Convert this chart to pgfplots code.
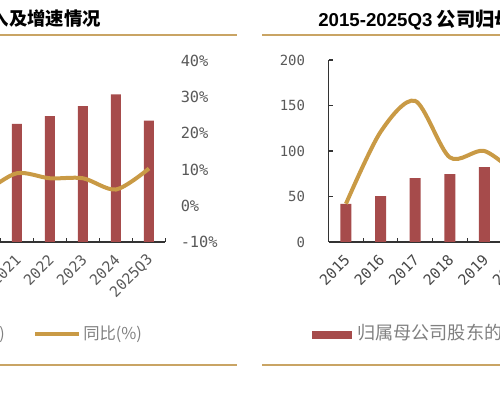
\documentclass[border=0pt]{standalone}
\usepackage{pgfplots}
\pgfplotsset{compat=1.18}
\usepackage{pgfplotstable}
\usepackage{fontspec}
\setmainfont{Liberation Sans}
\newfontfamily\cjk{Noto Sans CJK SC}
\newfontfamily\mono{DejaVu Sans Mono}
\definecolor{barred}{HTML}{A64B4B}
\definecolor{gold}{HTML}{C99A45}
\definecolor{sep}{HTML}{C9A464}
\definecolor{tickgray}{HTML}{595959}
\definecolor{leggray}{HTML}{808080}
\definecolor{axisdark}{HTML}{333333}

\pgfplotstableread{
x val
0 163
1 174
2 187.5
3 204
4 167.8
}\leftbars
\pgfplotstableread{
x val
-2 2
-1 4
0 9.0
1 7.6
2 7.6
3 4.5
4 10.3
}\leftline
\pgfplotstableread{
x val
0 41.8
1 50.5
2 70.3
3 74.7
4 82.4
}\rightbars
\pgfplotstableread{
x val
0 42
1 121
2 155
3 93
4 100
5 72
}\rightline

\begin{document}
\begin{tikzpicture}
\begin{scope}
\clip (0,0) rectangle (375pt,300pt);
% ---------- left chart: bars
\begin{axis}[at={(-148.125pt,118.5pt)}, anchor=south west, scale only axis,
  width=272.25pt, height=135.75pt,
  xmin=-6.5, xmax=4.5, ymin=0, ymax=250,
  axis x line*=bottom, axis y line*=left,
  axis line style={axisdark, line width=1pt},
  tick align=inside, major tick length=3pt, minor tick length=3pt,
  xtick={-6,...,4},
  xticklabels={2015,2016,2017,2018,2019,2020,2021,2022,2023,2024,2025Q3},
  minor xtick={-6.5,-5.5,...,4.5},
  major x tick style={draw=none},
  minor x tick style={axisdark, line width=0.8pt},
  ytick=\empty,
  xticklabel style={font=\mono\fontsize{11}{12}\selectfont, text=tickgray,
    xshift=1pt, yshift=-11.5pt, rotate=45, anchor=east, inner sep=0pt},
]
\addplot[ybar, bar width=7.5pt, fill=barred, draw=none] table[x=x,y=val]{\leftbars};
\end{axis}
% ---------- left chart: growth line (right axis)
\begin{axis}[at={(-148.125pt,118.5pt)}, anchor=south west, scale only axis,
  width=272.25pt, height=135.75pt,
  xmin=-6.5, xmax=4.5, ymin=-10, ymax=40,
  hide x axis, axis y line*=right,
  y axis line style={draw=none},
  major tick length=0pt,
  ytick={-10,0,10,20,30,40},
  yticklabels={-10\%,0\%,10\%,20\%,30\%,40\%},
  yticklabel style={font=\mono\fontsize{11.5}{12}\selectfont, text=tickgray,
    anchor=west, inner sep=0pt, xshift=11.25pt},
]
\addplot[gold, line width=3pt, smooth, no markers] table[x=x,y=val]{\leftline};
\end{axis}
% ---------- right chart
\begin{axis}[at={(246.5pt,118.5pt)}, anchor=south west, scale only axis,
  width=285.45pt, height=136.5pt,
  xmin=-0.5, xmax=10.5, ymin=0, ymax=200,
  axis x line*=bottom, axis y line*=left,
  axis line style={axisdark, line width=1pt},
  tick align=inside, major tick length=3pt, minor tick length=3pt,
  xtick={0,...,10},
  xticklabels={2015,2016,2017,2018,2019,2020,2021,2022,2023,2024,2025Q3},
  minor xtick={-0.5,0.5,...,10.5},
  major x tick style={draw=none},
  minor x tick style={axisdark, line width=0.8pt},
  major y tick style={axisdark, line width=0.8pt},
  ytick={0,50,100,150,200},
  yticklabels={0,50,100,150,200},
  yticklabel style={font=\mono\fontsize{10.5}{12}\selectfont, text=tickgray,
    anchor=east, inner sep=0pt, xshift=-17.5pt},
  xticklabel style={font=\mono\fontsize{11}{12}\selectfont, text=tickgray!80!black,
    xshift=1pt, yshift=-11.5pt, rotate=45, anchor=east, inner sep=0pt},
]
\addplot[ybar, bar width=8.25pt, fill=barred, draw=none] table[x=x,y=val]{\rightbars};
\addplot[gold, line width=3pt, smooth, no markers] table[x=x,y=val]{\rightline};
\end{axis}
% ---------- titles
\node[anchor=base east, inner sep=0pt] at (75.75pt,280.9pt)
  {\bfseries\fontsize{14}{16}\selectfont 2015-2025Q3 {\cjk\fontsize{13.75}{16}\selectfont\ 公司营业收入及增速情况}};
\node[anchor=base west, inner sep=0pt] at (238.5pt,280pt)
  {\bfseries\fontsize{14}{16}\selectfont 2015-2025Q3{\cjk\fontsize{14.5}{16}\selectfont\ 公司归母净利润及增速情况}};
% ---------- separators
\draw[sep, line width=1.1pt] (0pt,273.75pt) -- (177.75pt,273.75pt);
\draw[sep, line width=1.1pt] (196.5pt,273.75pt) -- (375pt,273.75pt);
\draw[sep, line width=1.1pt] (0pt,26.25pt) -- (177.75pt,26.25pt);
\draw[sep, line width=1.1pt] (196.5pt,26.25pt) -- (375pt,26.25pt);
% ---------- legends
\node[anchor=east, inner sep=0pt, text=leggray] at (3.75pt,49.5pt)
  {\cjk\fontsize{12}{14}\selectfont 营业收入(亿元)};
\draw[gold, line width=3pt] (26.25pt,49.5pt) -- (59.25pt,49.5pt);
\node[anchor=west, inner sep=0pt, text=leggray] at (62.25pt,49.5pt)
  {\cjk\fontsize{12.25}{14}\selectfont 同比(\%)};
\fill[barred] (234pt,45.75pt) rectangle (264pt,51.75pt);
\node[anchor=west, inner sep=0pt, text=leggray] at (267.75pt,49.5pt)
  {\cjk\fontsize{13.6}{15}\selectfont 归属母公司股东的净利润(亿元)};
\end{scope}
\pgfresetboundingbox
\path[use as bounding box] (0,0) rectangle (375pt,300pt);
\end{tikzpicture}
\end{document}
